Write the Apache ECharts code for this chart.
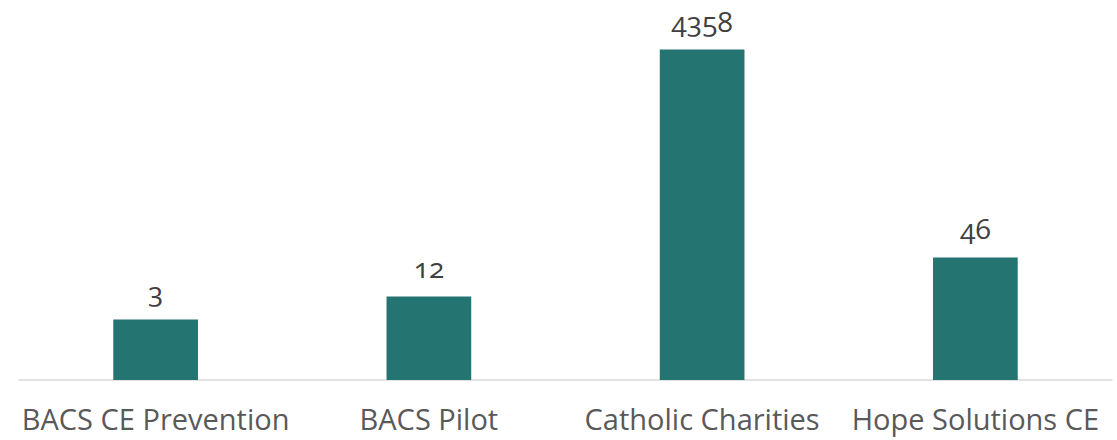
<!DOCTYPE html>
<html>
<head>
<meta charset="utf-8">
<script src="https://cdn.jsdelivr.net/npm/echarts@6/dist/echarts.min.js"></script>
<style>
html,body{margin:0;padding:0;background:#fff;}
#chart{width:1117px;height:440px;}
#chart text{font-variant-numeric: oldstyle-nums; font-feature-settings: "onum" 1;}
</style>
</head>
<body>
<div id="chart"></div>
<script>
// Categories
var categories = ["BACS CE Prevention", "BACS Pilot", "Catholic Charities", "Hope Solutions CE"];
// Data labels shown above each bar
var labelValues = [3, 12, 4358, 46];
// Bar heights (relative, tallest bar = 100)
var barHeights = [18.3, 25.3, 100, 37.1];

var chart = echarts.init(document.getElementById('chart'), null, {renderer: 'svg'});
chart.setOption({
  animation: false,
  grid: {left: 19, right: 5, top: 0, bottom: 60},
  xAxis: {
    type: 'category',
    data: categories,
    axisLine: {lineStyle: {color: '#d9d9d9', width: 1.5}},
    axisTick: {show: false},
    axisLabel: {color: '#595959', fontSize: 29, fontFamily: 'Open Sans', margin: 24, interval: 0}
  },
  yAxis: {
    type: 'value', min: 0, max: 115,
    show: false, splitLine: {show: false}
  },
  series: [{
    type: 'bar',
    data: barHeights,
    barWidth: '31%',
    itemStyle: {color: '#247572'},
    label: {
      show: true, position: 'top', distance: 15,
      color: '#404040', fontSize: 28, fontFamily: 'Open Sans',
      formatter: function (p) { return String(labelValues[p.dataIndex]); }
    }
  }]
});
</script>
</body>
</html>
